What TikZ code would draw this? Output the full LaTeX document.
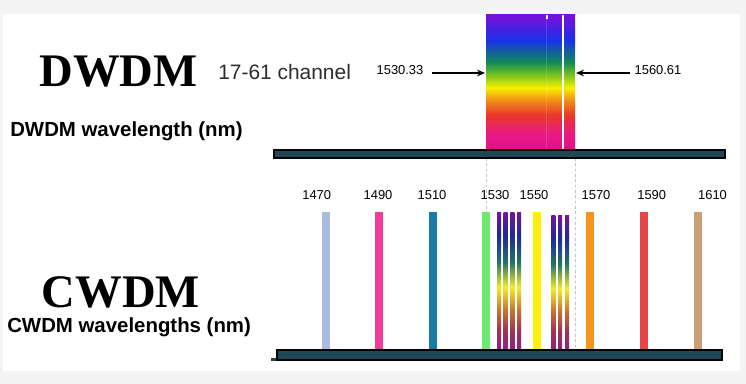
\documentclass[tikz,border=0pt]{standalone}
\usepackage{fontspec}
\setmainfont{Liberation Serif}
\setsansfont{Liberation Sans}
\usepackage{xcolor}
\definecolor{fibreteal}{RGB}{30,72,88}
\definecolor{framegray}{RGB}{244,244,244}
\definecolor{guidegray}{RGB}{190,190,200}
\definecolor{textgray}{RGB}{45,45,45}
\definecolor{c1470}{RGB}{170,188,222}
\definecolor{c1490}{RGB}{240,60,150}
\definecolor{c1510}{RGB}{24,124,166}
\definecolor{c1530}{RGB}{110,232,110}
\definecolor{c1550}{RGB}{250,240,10}
\definecolor{c1570}{RGB}{244,150,30}
\definecolor{c1590}{RGB}{228,70,72}
\definecolor{c1610}{RGB}{200,160,115}
\usepackage{tikz}
\usetikzlibrary{arrows.meta, positioning}

% rainbow of the DWDM band (top = short, bottom = long)
\pgfdeclareverticalshading{dwdmband}{100bp}{
  rgb(0bp)=(0.88,0.06,0.54);
  rgb(25bp)=(0.88,0.06,0.54);
  rgb(31bp)=(0.91,0.10,0.52);
  rgb(38bp)=(0.91,0.22,0.16);
  rgb(43.5bp)=(0.94,0.56,0.09);
  rgb(48bp)=(0.97,0.94,0.0);
  rgb(53bp)=(0.45,0.76,0.13);
  rgb(57.6bp)=(0.06,0.54,0.35);
  rgb(65.7bp)=(0.10,0.19,0.91);
  rgb(75bp)=(0.48,0.06,0.85);
  rgb(100bp)=(0.48,0.06,0.85)}
% thin DWDM lines inside the CWDM grid
\pgfdeclareverticalshading{thinbar}{100bp}{
  rgb(0bp)=(0.55,0.12,0.55);
  rgb(25bp)=(0.55,0.12,0.55);
  rgb(32bp)=(0.62,0.20,0.32);
  rgb(39.5bp)=(0.78,0.45,0.20);
  rgb(47.8bp)=(0.96,0.93,0.15);
  rgb(56.9bp)=(0.15,0.45,0.40);
  rgb(66.7bp)=(0.12,0.16,0.60);
  rgb(75bp)=(0.45,0.08,0.60);
  rgb(100bp)=(0.45,0.08,0.60)}

\begin{document}
\begin{tikzpicture}[x=0.75pt, y=-0.75pt,
    bigtitle/.style={font=\fontsize{35}{40}\selectfont\bfseries, inner sep=0pt, anchor=base},
    axislabel/.style={font=\sffamily\fontsize{15.3}{18}\selectfont\bfseries, inner sep=0pt, anchor=base west},
    numlabel/.style={font=\sffamily\fontsize{9.7}{12}\selectfont, inner sep=0pt, anchor=base},
    fibre/.style={fill=fibreteal, draw=black, line width=1.2pt},
    guide/.style={draw=guidegray, line width=0.5pt, dash pattern=on 2pt off 2pt},
    pointer/.style={draw=black, line width=1.1pt, -{Stealth[length=6pt, width=5pt]}}]
  \useasboundingbox (0,0) rectangle (746,384);
  \fill[framegray] (0,0) rectangle (746,384);
  \fill[white] (3,14) rectangle (740,371);

  % DWDM band
  \shade[shading=dwdmband] (486,15) rectangle (575,150);
  \draw[white, opacity=0.15, line width=1pt] (546.5,15) -- (546.5,150);
  \draw[white, line width=1.5pt] (562.5,15) -- (562.5,150);
  \fill[white] (546,15) rectangle (548,19);

  % titles
  \node[bigtitle] (dwdm) at (118.5,87) {DWDM};
  \node[font=\sffamily\fontsize{15.7}{18}\selectfont, text=textgray, inner sep=0pt, anchor=base west] (chan) at (218,80) {17-61 channel};
  \node[axislabel] (dwdmaxis) at (10,137) {DWDM wavelength (nm)};
  \node[bigtitle] (cwdm) at (121,308) {CWDM};
  \node[axislabel] (cwdmaxis) at (7,333) {CWDM wavelengths (nm)};

  % band edges
  \node[numlabel] (lo) at (400,75) {1530.33};
  \node[numlabel] (hi) at (658,75) {1560.61};
  \coordinate (loTail) at (432,73);
  \coordinate (bandW) at (485,73);
  \coordinate (hiTail) at (630,73);
  \coordinate (bandE) at (576,73);
  \draw[pointer] (loTail) -- (bandW);
  \draw[pointer] (hiTail) -- (bandE);

  % guides from the band down to the CWDM grid
  \draw[guide] (486,158) -- (486,350);
  \draw[guide] (575,158) -- (575,350);

  % CWDM channels
  \foreach \bx/\lx/\wl in {325.7/316.7/1470, 379/378/1490, 432.7/432/1510, 486/495/1530,
                           536.7/534/1550, 590/596/1570, 644.3/651.7/1590, 697.7/712.5/1610}{
    \fill[c\wl] (\bx-4,212) rectangle (\bx+4,350);
    \node[numlabel] (w\wl) at (\lx,200) {\wl};
  }
  \foreach \tx in {499,505.7,512.3,519}
    \shade[shading=thinbar] (\tx-2,212.5) rectangle (\tx+2,350);
  \foreach \tx in {553.3,560,567}
    \shade[shading=thinbar] (\tx-2,215.5) rectangle (\tx+2,350);

  % fibres
  \draw[fibre] (274,150) rectangle (725,158);
  \fill[fibreteal] (271,358) rectangle (277,361);
  \draw[fibre] (277,350) rectangle (722,360);
\end{tikzpicture}
\end{document}
